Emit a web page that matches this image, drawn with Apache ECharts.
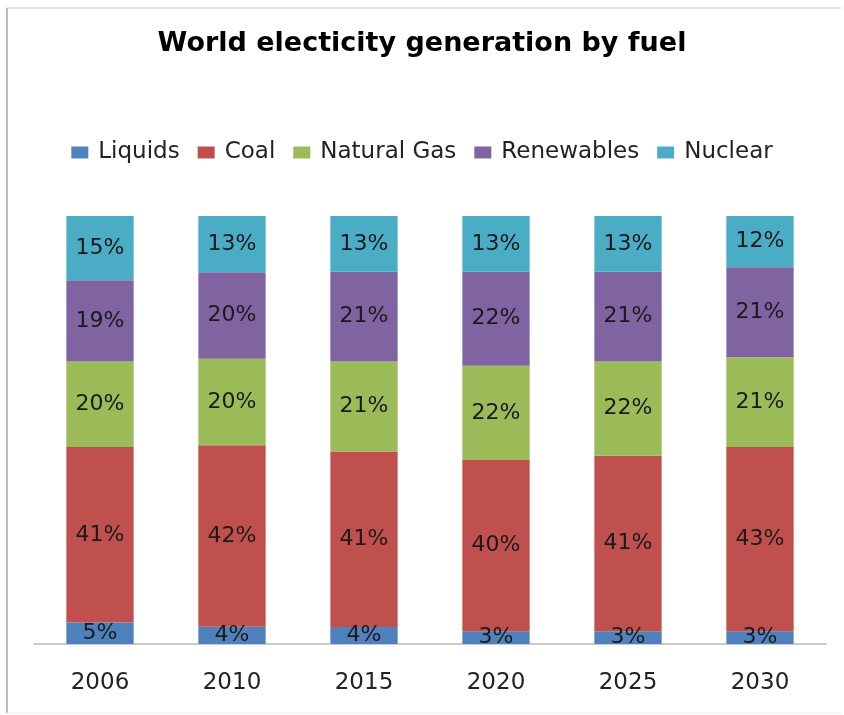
<!DOCTYPE html>
<html><head><meta charset="utf-8">
<script src="https://cdn.jsdelivr.net/npm/echarts@6/dist/echarts.min.js"></script>
<style>html,body{margin:0;padding:0;background:#fff}#c{width:844px;height:715px}</style>
</head><body><div id="c"></div>
<script>
const years = ['2006','2010','2015','2020','2025','2030'];
const liquids = [5,4,4,3,3,3];
const coal = [41,42,41,40,41,43];
const naturalGas = [20,20,21,22,22,21];
const renewables = [19,20,21,22,21,21];
const nuclear = [15,13,13,13,13,12];

const seriesDefs = [
  {name:'Liquids', data:liquids, color:'#4F81BD'},
  {name:'Coal', data:coal, color:'#C0504D'},
  {name:'Natural Gas', data:naturalGas, color:'#9BBB59'},
  {name:'Renewables', data:renewables, color:'#8064A2'},
  {name:'Nuclear', data:nuclear, color:'#4BACC6'}
];
const totals = years.map((_,i)=>seriesDefs.reduce((s,d)=>s+d.data[i],0));
const FONT = '"DejaVu Sans", sans-serif';

const chart = echarts.init(document.getElementById('c'));
chart.setOption({
  animation:false,
  title:{text:'World electicity generation by fuel', left:'center', top:25,
    textStyle:{fontFamily:FONT, fontSize:27, fontWeight:'bold', color:'#000'}},
  legend:{top:136, left:'center', itemWidth:17, itemHeight:12, itemGap:18, icon:'rect',
    textStyle:{fontFamily:FONT, fontSize:23, color:'#222', padding:[0,0,0,5]},
    data:seriesDefs.map(d=>d.name)},
  grid:{left:34, right:18, top:216, bottom:71, containLabel:false},
  xAxis:{type:'category', data:years,
    axisLine:{lineStyle:{color:'#cccccc', width:2}}, axisTick:{show:false},
    axisLabel:{fontFamily:FONT, fontSize:23, color:'#222', margin:28}},
  yAxis:{type:'value', min:0, max:100, show:false, splitLine:{show:false}},
  graphic:[
    {type:'line', shape:{x1:7,y1:8,x2:7,y2:713}, style:{stroke:'#bdbdbd', lineWidth:2}},
    {type:'line', shape:{x1:7,y1:8,x2:841,y2:8}, style:{stroke:'#d6d6d6', lineWidth:1.5}},
    {type:'line', shape:{x1:7,y1:713,x2:841,y2:713}, style:{stroke:'#ececec', lineWidth:1}}
  ],
  series:seriesDefs.map(d=>({
    name:d.name, type:'bar', stack:'total', barWidth:'51%',
    itemStyle:{color:d.color},
    data:d.data.map((v,i)=>({value:v/totals[i]*100, raw:v})),
    label:{show:true, position:'inside', fontFamily:FONT, fontSize:22, color:'#1a1a1a',
      formatter:p=>p.data.raw+'%'}
  }))
});
</script></body></html>
